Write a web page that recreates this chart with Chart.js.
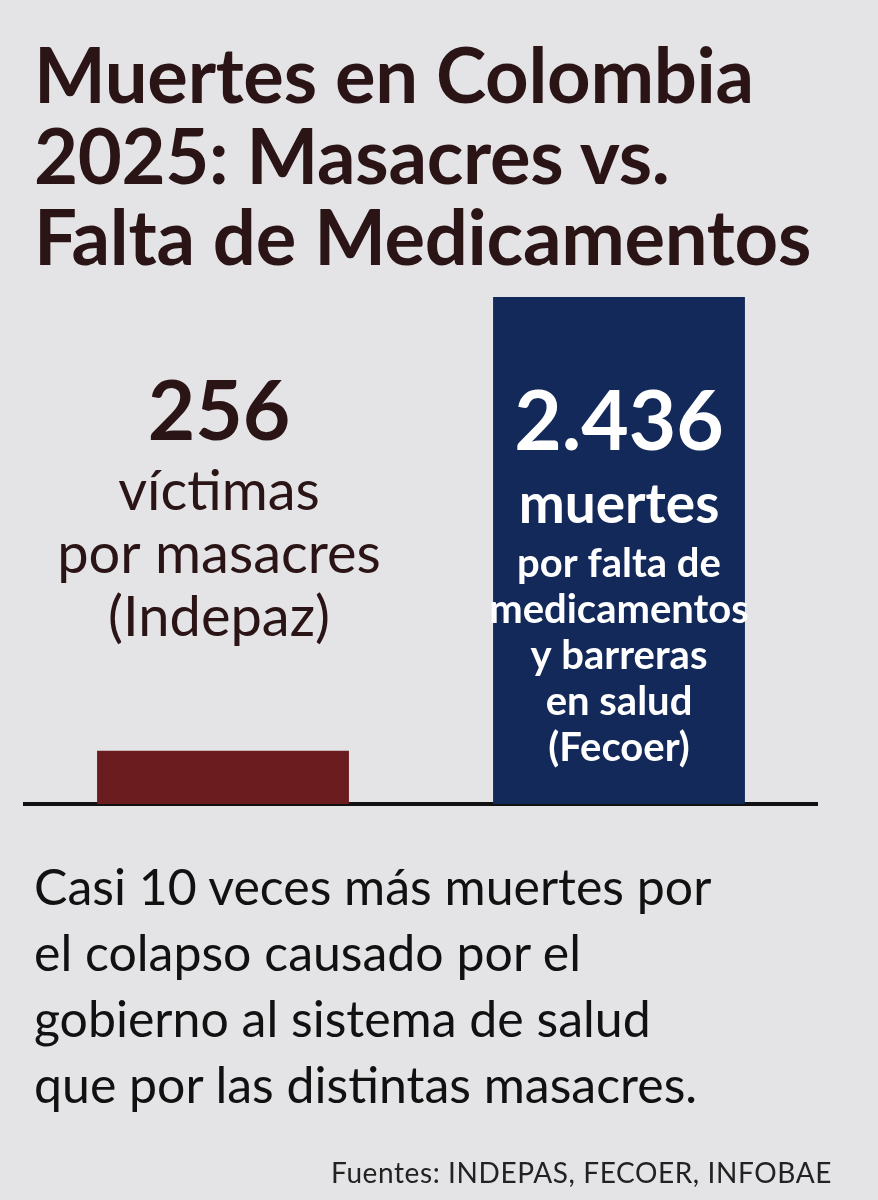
<!DOCTYPE html>
<html lang="es">
<head>
<meta charset="utf-8">
<script src="https://cdn.jsdelivr.net/npm/chart.js@4/dist/chart.umd.min.js"></script>
<style>
  html, body { margin: 0; padding: 0; background: #e4e4e6; }
  #page { position: relative; width: 878px; height: 1200px; overflow: hidden; background: #e4e4e6; }
  #chart { position: absolute; left: 0; top: 0; }
  .title {
    position: absolute; left: 34px; top: 33px; margin: 0;
    font-family: Lato, sans-serif; font-weight: 700; font-size: 76px;
    line-height: 81px; color: #2a1416; letter-spacing: -0.3px;
  }
  .note {
    position: absolute; left: 34px; top: 853px; margin: 0;
    font-family: Lato, sans-serif; font-size: 50px; line-height: 66px; color: #111;
  }
  .src {
    position: absolute; right: 46px; top: 1158px; margin: 0;
    font-family: Lato, sans-serif; font-size: 28px; line-height: 28px;
    letter-spacing: 0.6px; color: #222;
  }
</style>
</head>
<body>
<div id="page">
  <canvas id="chart" width="878" height="1200"></canvas>
  <h1 class="title">Muertes en Colombia<br>2025: Masacres vs.<br>Falta de Medicamentos</h1>
  <p class="note">Casi 10 veces más muertes por<br>el colapso causado por el<br>gobierno al sistema de salud<br>que por las distintas masacres.</p>
  <p class="src">Fuentes: INDEPAS, FECOER, INFOBAE</p>
</div>
<script>
const categories = ['Masacres', 'Falta de medicamentos'];
const deaths = [256, 2436];
const valueLabels = ['256', '2.436'];
const captionLines = [
  ['víctimas', 'por masacres', '(Indepaz)'],
  ['muertes', 'por falta de', 'medicamentos', 'y barreras', 'en salud', '(Fecoer)']
];
const barColors = ['#6a1c1f', '#13295a'];

// text above / inside the bars
const barText = {
  id: 'barText',
  afterDatasetsDraw(chart) {
    const ctx = chart.ctx;
    const top = chart.scales.y.getPixelForValue(Math.max(...deaths));
    const bars = chart.getDatasetMeta(0).data;
    ctx.save();
    ctx.textAlign = 'center';
    ctx.textBaseline = 'alphabetic';

    // left bar: text sits above the short bar
    let x = bars[0].x - 4;
    ctx.fillStyle = '#2a1416';
    ctx.font = '700 82px Lato';
    ctx.fillText(valueLabels[0], x, top + 143);
    ctx.font = '400 56px Lato';
    captionLines[0].forEach((t, i) => ctx.fillText(t, x, top + 213 + i * 63));

    // right bar: white text inside
    x = bars[1].x;
    ctx.fillStyle = '#ffffff';
    ctx.font = '700 82px Lato';
    ctx.fillText(valueLabels[1], x, top + 153);
    ctx.font = '700 55px Lato';
    ctx.fillText(captionLines[1][0], x, top + 226);
    ctx.font = '700 40px Lato';
    captionLines[1].slice(1).forEach((t, i) => ctx.fillText(t, x, top + 280 + i * 46));
    ctx.restore();
  }
};

new Chart(document.getElementById('chart'), {
  type: 'bar',
  data: {
    labels: categories,
    datasets: [{
      data: deaths,
      backgroundColor: barColors,
      barPercentage: 1,
      categoryPercentage: 0.636
    }]
  },
  options: {
    responsive: false,
    animation: false,
    layout: { padding: { top: 297, bottom: 388, left: 25, right: 61 } },
    plugins: { legend: { display: false }, tooltip: { enabled: false } },
    scales: {
      x: {
        grid: { display: false },
        ticks: { display: false },
        border: { display: true, color: '#111', width: 4 }
      },
      y: {
        display: false,
        min: 0,
        max: Math.max(...deaths)
      }
    }
  },
  plugins: [barText]
});
</script>
</body>
</html>
